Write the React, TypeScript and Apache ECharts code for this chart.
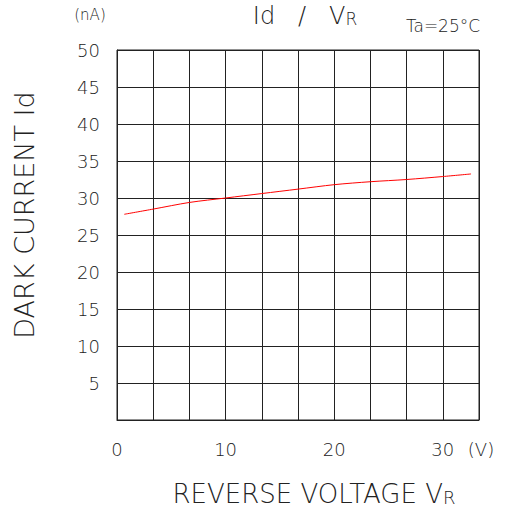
import React, { useEffect, useRef } from "react";
import * as echarts from "echarts";

const voltage = [0.67, 3.33, 6.67, 10, 13.33, 16.67, 20, 23.33, 26.67, 30, 32.6];
const darkCurrent = [27.8, 28.5, 29.4, 30.0, 30.6, 31.2, 31.8, 32.2, 32.5, 32.9, 33.25];
const xTickLabels = [0, 10, 20, 30];
const yTickLabels = [5, 10, 15, 20, 25, 30, 35, 40, 45, 50];

const FONT = "DejaVu Sans";
const INK = "#222";

export default function App() {
  const ref = useRef<HTMLDivElement>(null);
  useEffect(() => {
    if (!ref.current) return;
    const chart = echarts.init(ref.current, undefined, { renderer: "svg" });
    const data = voltage.map((v, i) => [v, darkCurrent[i]]);
    chart.setOption({
      animation: false,
      backgroundColor: "#fff",
      grid: {
        left: 117,
        top: 50,
        width: 362,
        height: 370,
        show: true,
        borderColor: INK,
        borderWidth: 1,
        containLabel: false,
      },
      xAxis: {
        type: "value",
        min: 0,
        max: 100 / 3,
        interval: 10 / 3,
        axisLine: { show: true, lineStyle: { color: INK, width: 1 } },
        axisTick: { show: false },
        splitLine: { show: true, lineStyle: { color: INK, width: 1 } },
        axisLabel: {
          margin: 20,
          fontSize: 18,
          fontFamily: FONT,
          fontWeight: 200,
          color: INK,
          showMaxLabel: false,
          formatter: (v: number) => {
            const r = Math.round(v);
            return Math.abs(v - r) < 1e-6 && xTickLabels.includes(r) ? String(r) : "";
          },
        },
      },
      yAxis: {
        type: "value",
        min: 0,
        max: 50,
        interval: 5,
        axisLine: { show: true, lineStyle: { color: INK, width: 1 } },
        axisTick: { show: false },
        splitLine: { show: true, lineStyle: { color: INK, width: 1 } },
        axisLabel: {
          margin: 17,
          fontSize: 18,
          fontFamily: FONT,
          fontWeight: 200,
          color: INK,
          formatter: (v: number) => (yTickLabels.includes(v) ? String(v) : ""),
        },
      },
      series: [
        {
          type: "line",
          data,
          smooth: 0.3,
          symbol: "none",
          lineStyle: { color: "#ff0000", width: 1 },
        },
      ],
      graphic: [
        {
          type: "text",
          x: 90,
          y: 15,
          style: {
            text: "(nA)",
            fontSize: 15,
            fontFamily: FONT,
            fontWeight: 200,
            fill: INK,
            align: "center",
            verticalAlign: "middle",
            textAlign: "center",
            textVerticalAlign: "middle",
          },
        },
        {
          type: "text",
          x: 305,
          y: 15,
          style: {
            text: "{a|Id   /   V}{b|R}",
            fill: INK,
            align: "center",
            verticalAlign: "middle",
            textAlign: "center",
            textVerticalAlign: "middle",
            rich: {
              a: { fontSize: 24, fontFamily: FONT, fontWeight: 200, fill: INK, color: INK, lineHeight: 25, verticalAlign: "bottom" },
              b: { fontSize: 17, fontFamily: FONT, fontWeight: 200, fill: INK, color: INK, lineHeight: 25, verticalAlign: "bottom" },
            },
          },
        },
        {
          type: "text",
          x: 443,
          y: 26,
          style: {
            text: "Ta=25°C",
            fontSize: 17,
            fontFamily: FONT,
            fontWeight: 200,
            fill: INK,
            align: "center",
            verticalAlign: "middle",
            textAlign: "center",
            textVerticalAlign: "middle",
          },
        },
        {
          type: "text",
          x: 481,
          y: 449,
          style: {
            text: "(V)",
            fontSize: 18,
            fontFamily: FONT,
            fontWeight: 200,
            fill: INK,
            align: "center",
            verticalAlign: "middle",
            textAlign: "center",
            textVerticalAlign: "middle",
          },
        },
        {
          type: "text",
          x: 24,
          y: 215,
          rotation: Math.PI / 2,
          style: {
            text: "DARK CURRENT Id",
            fontSize: 27,
            fontFamily: FONT,
            fontWeight: 200,
            fill: INK,
            align: "center",
            verticalAlign: "middle",
            textAlign: "center",
            textVerticalAlign: "middle",
          },
        },
        {
          type: "text",
          x: 314,
          y: 493,
          style: {
            text: "{a|REVERSE VOLTAGE V}{b|R}",
            fill: INK,
            align: "center",
            verticalAlign: "middle",
            textAlign: "center",
            textVerticalAlign: "middle",
            rich: {
              a: { fontSize: 26, fontFamily: FONT, fontWeight: 200, fill: INK, color: INK, lineHeight: 27, verticalAlign: "bottom" },
              b: { fontSize: 18, fontFamily: FONT, fontWeight: 200, fill: INK, color: INK, lineHeight: 27, verticalAlign: "bottom" },
            },
          },
        },
      ],
    });
    return () => chart.dispose();
  }, []);
  return (
    <div
      ref={ref}
      style={{ position: "absolute", left: 0, top: 0, width: 505, height: 513 }}
    />
  );
}
